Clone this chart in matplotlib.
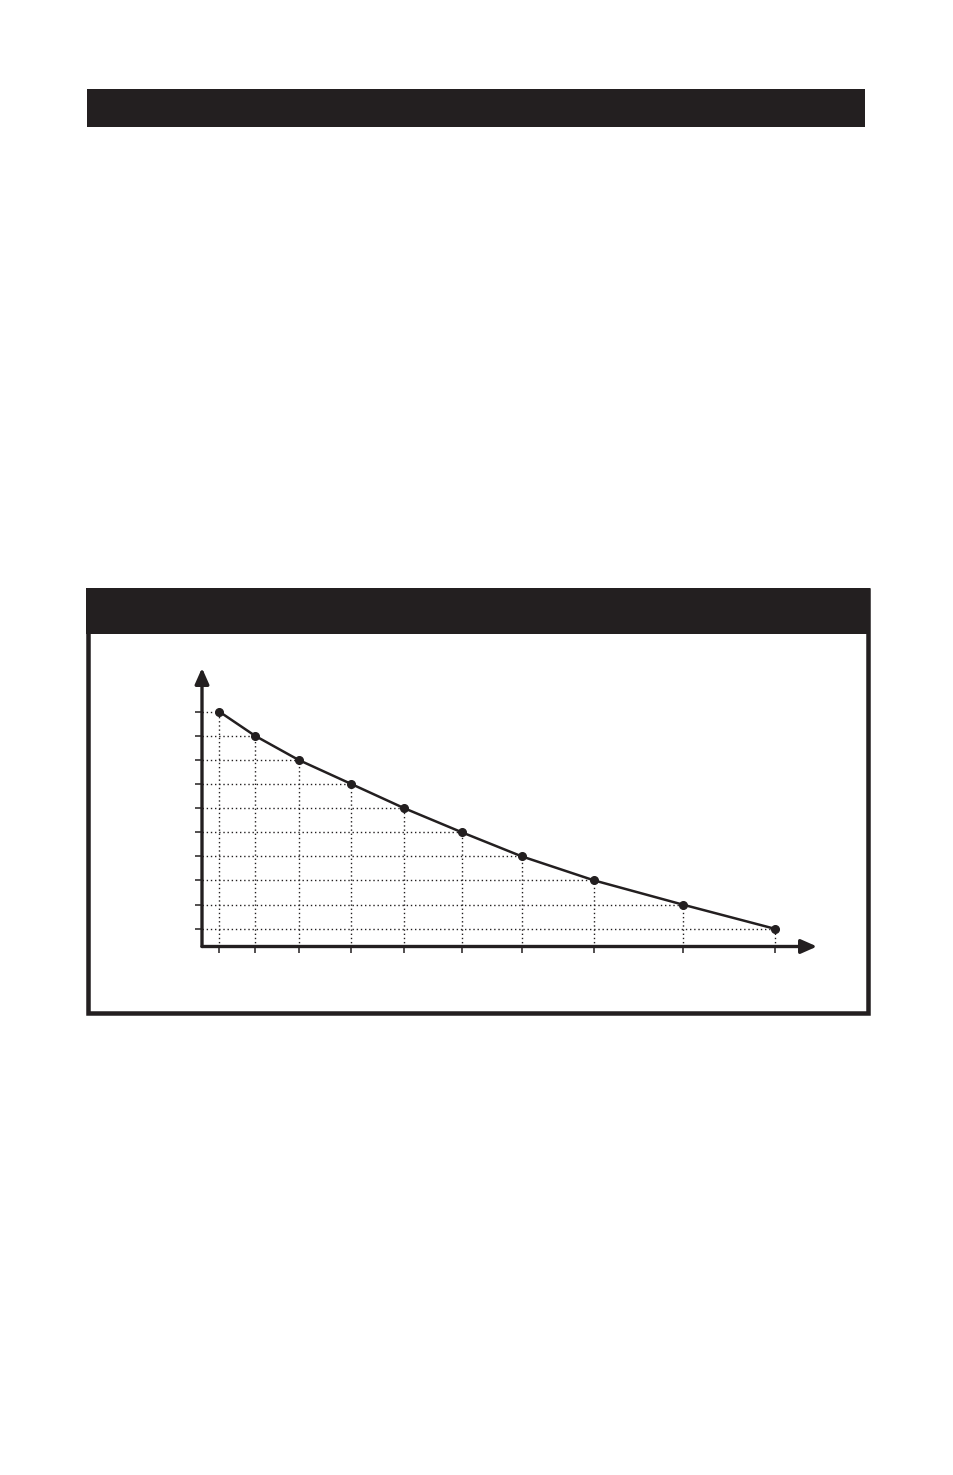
import matplotlib
matplotlib.use("Agg")
import matplotlib.pyplot as plt
from matplotlib.patches import Rectangle

# Data (x in arbitrary units, y levels 1..10)
x_vals = [1.73, 5.3, 9.65, 14.93, 20.2, 25.97, 31.97, 39.23, 48.07, 57.25]
y_vals = [10, 9, 8, 7, 6, 5, 4, 3, 2, 1]
y_ticks = [1, 2, 3, 4, 5, 6, 7, 8, 9, 10]

INK = "#231f20"
W, H = 954, 1475

fig = plt.figure(figsize=(W / 100, H / 100), dpi=100)
fig.patch.set_facecolor("white")


def px_rect(x0, y0, x1, y1, **kw):
    # rectangle given in pixel coords measured from top-left
    return Rectangle((x0 / W, 1 - y1 / H), (x1 - x0) / W, (y1 - y0) / H,
                     transform=fig.transFigure, **kw)


# Top black bar
fig.patches.append(px_rect(87, 89, 865, 127, facecolor=INK, edgecolor="none"))
# Chart box: header band and border
fig.patches.append(px_rect(86, 588, 870, 634, facecolor=INK, edgecolor="none"))
bw = 4.5
fig.patches.append(px_rect(86 + bw / 2, 588 + bw / 2, 870 - bw / 2, 1015.5 - bw / 2,
                           facecolor="none", edgecolor=INK, linewidth=bw * 0.72))

# Plot axes
ax = fig.add_axes([202 / W, 1 - 946.5 / H, (817 - 202) / W, (946.5 - 668) / H])
ax.set_xlim(0, 61.5)
ax.set_ylim(0.262, 11.81)
for s in ax.spines.values():
    s.set_visible(False)
ax.set_facecolor("none")

# Dotted guide lines from each point to the axes
ymin, xmin = ax.get_ylim()[0], ax.get_xlim()[0]
for x, y in zip(x_vals, y_vals):
    ax.plot([xmin, x], [y, y], color=INK, lw=1.0, linestyle=(0, (1, 2)), zorder=1)
    ax.plot([x, x], [ymin, y], color=INK, lw=1.0, linestyle=(0, (1, 2)), zorder=1)

# Curve
ax.plot(x_vals, y_vals, color=INK, lw=1.8, marker="o", markersize=5.5,
        markerfacecolor=INK, markeredgecolor=INK, zorder=3)

# Ticks, no labels
ax.set_xticks(x_vals)
ax.set_yticks(y_ticks)
ax.tick_params(axis="y", direction="out", length=5, width=1.1, color=INK,
               labelleft=False)
ax.tick_params(axis="x", direction="out", length=4.5, width=1.1, color=INK,
               labelbottom=False)

# Axis arrows
arrow = dict(arrowstyle="-|>,head_length=0.95,head_width=0.42", color=INK,
             lw=2.4, shrinkA=0, shrinkB=0, mutation_scale=10)
ax.annotate("", xy=(0, 1), xytext=(0, 0), xycoords="axes fraction",
            arrowprops=arrow, annotation_clip=False)
ax.annotate("", xy=(1, 0), xytext=(0, 0), xycoords="axes fraction",
            arrowprops=arrow, annotation_clip=False)

fig.savefig("out.png", dpi=100)
